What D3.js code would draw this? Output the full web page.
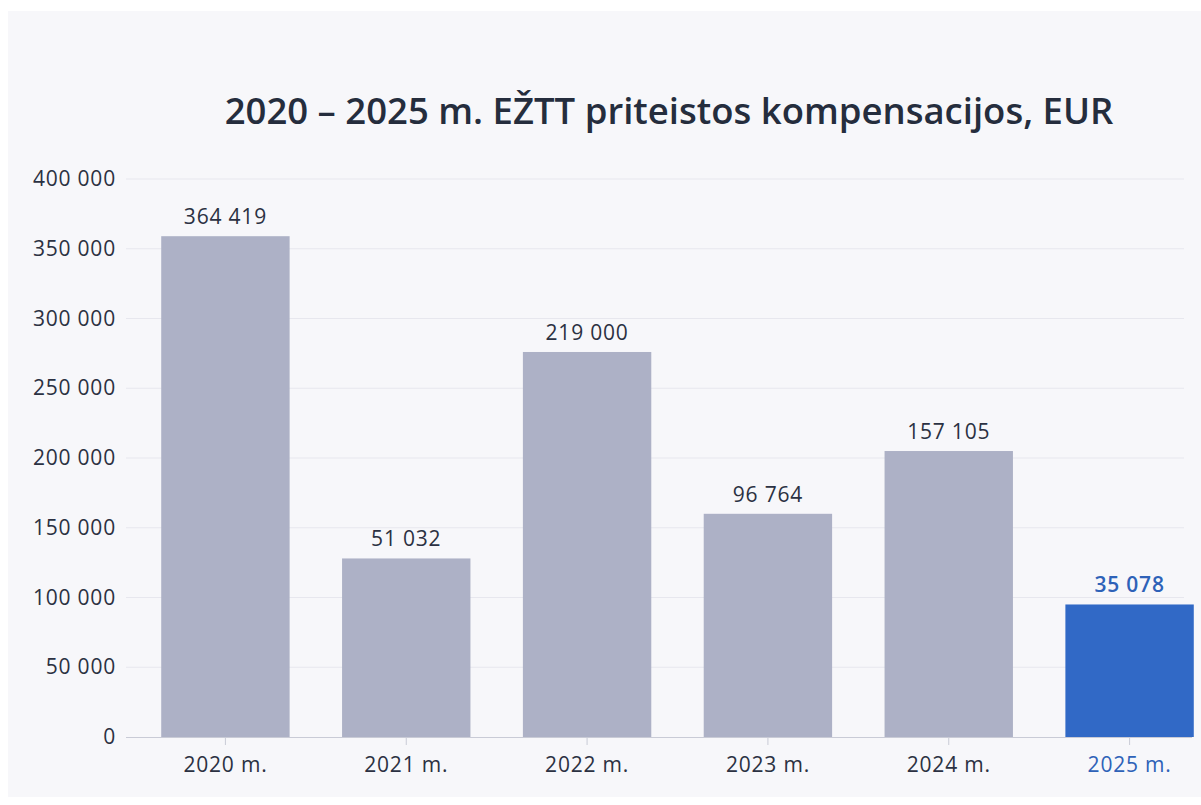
<!DOCTYPE html>
<html>
<head>
<meta charset="utf-8">
<script src="https://cdn.jsdelivr.net/npm/d3@7/dist/d3.min.js"></script>
<style>
  html, body { margin: 0; padding: 0; background: #ffffff; }
  svg { display: block; }
  text { font-family: "Open Sans", "Noto Sans", sans-serif; }
</style>
</head>
<body>
<svg id="chart" width="1201" height="805"></svg>
<script>
// ---- data ----
const categories = ["2020 m.", "2021 m.", "2022 m.", "2023 m.", "2024 m.", "2025 m."];
// bar heights as drawn on the axis
const barValues = [359000, 128000, 276000, 160000, 205000, 95000];
// printed value labels (as written above each bar)
const valueLabels = ["364 419", "51 032", "219 000", "96 764", "157 105", "35 078"];
const yTicks = [0, 50000, 100000, 150000, 200000, 250000, 300000, 350000, 400000];
const highlight = "2025 m.";
const title = "2020 – 2025 m. EŽTT priteistos kompensacijos, EUR";

// ---- setup ----
const svg = d3.select("#chart");
const W = 1201, H = 805;
const grayBar = "#adb1c6", blueBar = "#3169c6", blueText = "#2e62b8";
const textDark = "#2b3142";

svg.append("rect").attr("x", 8).attr("y", 11).attr("width", W - 8).attr("height", 786)
  .attr("fill", "#f7f7fa");

const locale = d3.formatLocale({ decimal: ",", thousands: " ", grouping: [3], currency: ["", " €"] });
const fmt = locale.format(",d");

const x = d3.scaleBand().domain(categories).range([135, 1220]).paddingInner(0.29).paddingOuter(0.145);
const y = d3.scaleLinear().domain([0, 400000]).range([737, 179]);

// gridlines
svg.append("g").selectAll("line").data(yTicks.slice(1)).join("line")
  .attr("x1", 126).attr("x2", 1184)
  .attr("y1", d => y(d)).attr("y2", d => y(d))
  .attr("stroke", "#e7e7ee").attr("stroke-width", 1);

// y axis
const yAxis = svg.append("g").attr("transform", "translate(126,0)")
  .call(d3.axisLeft(y).tickValues(yTicks).tickFormat(fmt).tickSize(0).tickPadding(10));
yAxis.select(".domain").remove();
yAxis.selectAll("text").attr("font-size", 21).attr("fill", textDark)
  .style("font-family", "'Open Sans', sans-serif").attr("letter-spacing", 0.8);

// bars
svg.append("g").selectAll("rect").data(categories).join("rect")
  .attr("x", d => x(d))
  .attr("width", x.bandwidth())
  .attr("y", (d, i) => y(barValues[i]))
  .attr("height", (d, i) => y(0) - y(barValues[i]))
  .attr("fill", d => d === highlight ? blueBar : grayBar);

// value labels
svg.append("g").selectAll("text").data(categories).join("text")
  .attr("x", d => x(d) + x.bandwidth() / 2)
  .attr("y", (d, i) => y(barValues[i]) - 12)
  .attr("text-anchor", "middle")
  .attr("font-size", 21)
  .attr("letter-spacing", 0.8)
  .attr("font-weight", d => d === highlight ? 600 : 400)
  .attr("fill", d => d === highlight ? blueText : textDark)
  .text((d, i) => valueLabels[i]);

// x axis
const xAxis = svg.append("g").attr("transform", "translate(0,737)")
  .call(d3.axisBottom(x).tickSize(8).tickPadding(12));
xAxis.select(".domain").attr("d", "M126,0.5H1192").attr("stroke", "#c9cbd6");
xAxis.selectAll(".tick line").attr("stroke", "#c9cbd6");
xAxis.selectAll("text").attr("font-size", 21).attr("letter-spacing", 0.8)
  .style("font-family", "'Open Sans', sans-serif")
  .attr("fill", d => d === highlight ? blueText : textDark);

// title
svg.append("text").attr("x", 669).attr("y", 124).attr("text-anchor", "middle")
  .attr("font-size", 36.5).attr("font-weight", 600).attr("fill", "#252d3d")
  .text(title);
</script>
</body>
</html>
